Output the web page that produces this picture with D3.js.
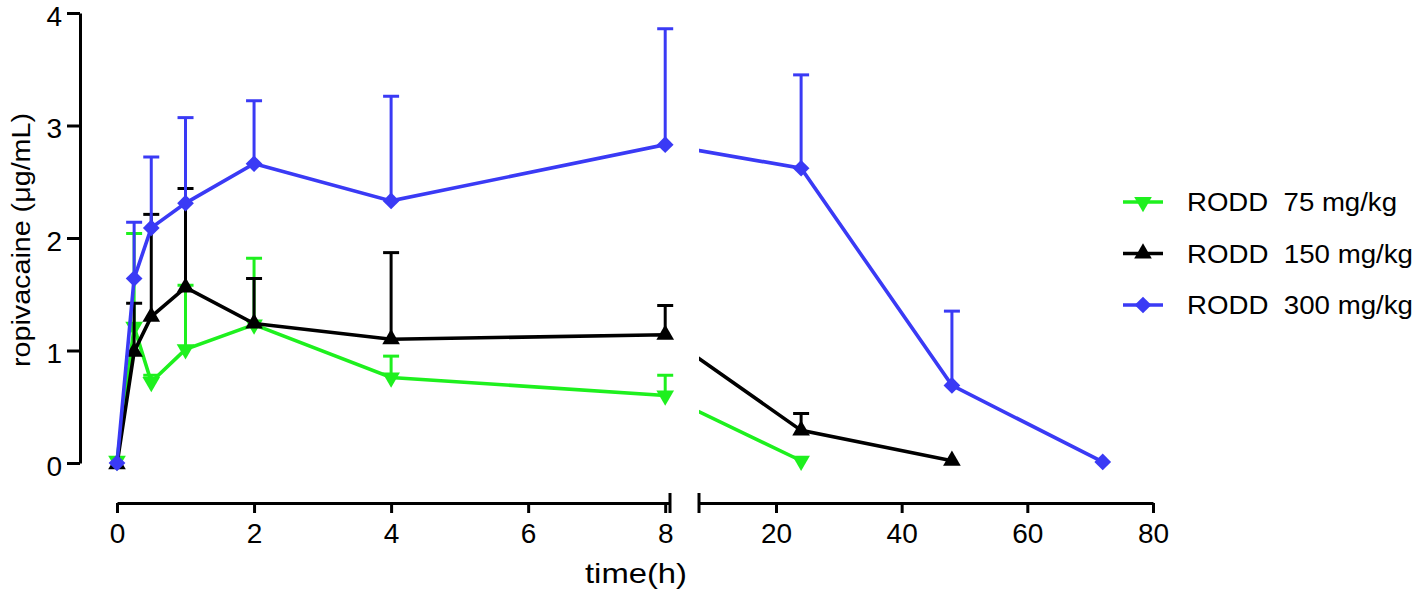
<html>
<head>
<meta charset="utf-8">
<title>ropivacaine</title>
<script src="https://cdn.jsdelivr.net/npm/d3@7"></script>
<style>
  body { margin: 0; background: #fff; }
  text { font-family: "Liberation Sans", Arial, sans-serif; }
</style>
</head>
<body>
<script>
// time points (h)
var times = [0, 0.25, 0.5, 1, 2, 4, 8, 24, 48, 72];

// series means
var rodd75 = [0.02, 1.21, 0.72, 1.01, 1.23, 0.76, 0.6, 0.02];
var rodd150 = [-0.01, 0.99, 1.3, 1.56, 1.24, 1.1, 1.14, 0.29, 0.02];
var rodd300 = [0, 1.64, 2.09, 2.31, 2.66, 2.33, 2.83, 2.62, 0.69, 0.01];

// upper error (SD)
var err75 = [0.01, 0.83, 0.06, 0.57, 0.59, 0.19, 0.18, 0];
var err150 = [0, 0.43, 0.91, 0.88, 0.4, 0.77, 0.26, 0.15, 0];
var err300 = [0, 0.5, 0.63, 0.76, 0.56, 0.93, 1.03, 0.83, 0.66, 0];

var names = ["RODD  75 mg/kg", "RODD  150 mg/kg", "RODD  300 mg/kg"];
var colors = ["#1ef01e", "#000000", "#3a3af5"];
var symbols = [d3.symbolTriangle, d3.symbolTriangle, d3.symbolSquare];
var rotations = [180, 0, 45];

var yTicks = [0, 1, 2, 3, 4];
var xTicks1 = [0, 2, 4, 6, 8];
var xTicks2 = [20, 40, 60, 80];

var w = 1415, h = 592;
var svg = d3.select("body").append("svg").attr("width", w).attr("height", h);

var y = d3.scaleLinear().domain([0, 4]).range([463, 13]);
var x1 = d3.scaleLinear().domain([0, 8.07]).range([117, 670]);
var x2 = d3.scaleLinear().domain([7.75, 80]).range([699, 1153]);
function xp(t) { return t <= 8 ? x1(t) : x2(t); }

// clip lines out of the axis break
var clip = svg.append("clipPath").attr("id", "brk");
clip.append("rect").attr("x", 0).attr("y", 0).attr("width", 668).attr("height", h);
clip.append("rect").attr("x", 699).attr("y", 0).attr("width", w - 699).attr("height", h);

// y axis
var yAxis = svg.append("g").attr("transform", "translate(80,0)")
  .call(d3.axisLeft(y).tickValues(yTicks).tickFormat(d3.format("d"))
    .tickSize(13).tickSizeOuter(0).tickPadding(5));
// x axes
var xa1 = svg.append("g").attr("transform", "translate(0,503)")
  .call(d3.axisBottom(x1).tickValues(xTicks1).tickSize(10).tickSizeOuter(0).tickPadding(10));
var xa2 = svg.append("g").attr("transform", "translate(0,503)")
  .call(d3.axisBottom(x2).tickValues(xTicks2).tickSize(10).tickSizeOuter(0).tickPadding(10));

[yAxis, xa1, xa2].forEach(function(g) {
  g.attr("font-size", 28).attr("font-family", null);
  g.selectAll("path, line").attr("stroke", "#000").attr("stroke-width", 3);
  g.selectAll("text").attr("fill", "#000").style("font-size", "28px");
});
yAxis.selectAll(".tick text").attr("dy", "0.44em");

// break bars
svg.append("g").selectAll("line").data([670, 699]).enter().append("line")
  .attr("x1", function(d) { return d; }).attr("x2", function(d) { return d; })
  .attr("y1", 493).attr("y2", 513)
  .attr("stroke", "#000").attr("stroke-width", 3);

// titles
svg.append("text").attr("x", 636).attr("y", 583).attr("text-anchor", "middle")
  .attr("textLength", 102).attr("lengthAdjust", "spacingAndGlyphs")
  .style("font-size", "28px").text("time(h)");
svg.append("text").attr("transform", "translate(30,240) rotate(-90)")
  .attr("text-anchor", "middle")
  .attr("textLength", 254).attr("lengthAdjust", "spacingAndGlyphs")
  .style("font-size", "26px").text("ropivacaine (μg/mL)");

var series = [rodd75, rodd150, rodd300];
var errs = [err75, err150, err300];
var sizes = [135, 135, 140];

var line = d3.line()
  .x(function(d) { return xp(d.t); })
  .y(function(d) { return y(d.v); });

series.forEach(function(vals, i) {
  var pts = vals.map(function(v, j) { return { t: times[j], v: v, e: errs[i][j] }; });
  var g = svg.append("g");
  g.append("path").datum(pts).attr("d", line)
    .attr("clip-path", "url(#brk)")
    .attr("fill", "none").attr("stroke", colors[i]).attr("stroke-width", 3.6);
  var eb = g.selectAll("g.err").data(pts.filter(function(d) { return d.e > 0.02; }))
    .enter().append("g");
  eb.append("line")
    .attr("x1", function(d) { return xp(d.t); }).attr("x2", function(d) { return xp(d.t); })
    .attr("y1", function(d) { return y(d.v); }).attr("y2", function(d) { return y(d.v + d.e); })
    .attr("stroke", colors[i]).attr("stroke-width", 3);
  eb.append("line")
    .attr("x1", function(d) { return xp(d.t) - 8; }).attr("x2", function(d) { return xp(d.t) + 8; })
    .attr("y1", function(d) { return y(d.v + d.e); }).attr("y2", function(d) { return y(d.v + d.e); })
    .attr("stroke", colors[i]).attr("stroke-width", 3);
  g.selectAll("path.m").data(pts).enter().append("path")
    .attr("d", d3.symbol().type(symbols[i]).size(sizes[i]))
    .attr("transform", function(d) { return "translate(" + xp(d.t) + "," + y(d.v) + ") rotate(" + rotations[i] + ")"; })
    .attr("fill", colors[i]);
});

// legend
var lgLen = [210, 226, 226];
var lg = svg.append("g").selectAll("g").data(names).enter().append("g")
  .attr("transform", function(d, i) { return "translate(1123," + (202 + i * 51.5) + ")"; });
lg.append("line").attr("x1", 0).attr("x2", 40).attr("stroke", function(d, i) { return colors[i]; })
  .attr("stroke-width", 3.6);
lg.append("path")
  .attr("d", function(d, i) { return d3.symbol().type(symbols[i]).size(sizes[i])(); })
  .attr("transform", function(d, i) { return "translate(20,0) rotate(" + rotations[i] + ")"; })
  .attr("fill", function(d, i) { return colors[i]; });
lg.append("text").attr("x", 64).attr("dy", "0.36em").style("font-size", "26px")
  .attr("xml:space", "preserve").style("white-space", "pre")
  .attr("textLength", function(d, i) { return lgLen[i]; }).attr("lengthAdjust", "spacingAndGlyphs")
  .text(function(d) { return d; });
</script>
</body>
</html>
